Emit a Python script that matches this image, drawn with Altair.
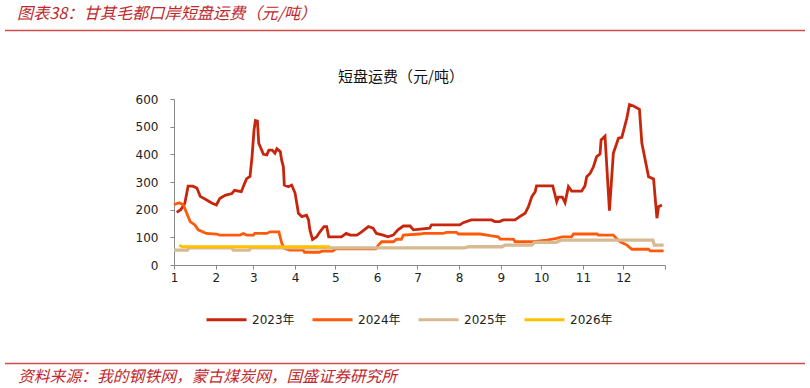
import altair as alt
import pandas as pd

# ---- data (day of year, value in 元/吨) ----
days_2023 = [2, 5, 8, 10.5, 14, 17, 19.5, 24, 28, 31.5, 34, 38, 43, 45, 50, 52.5, 54, 56.5, 58, 59.5,
             60.5, 62, 63, 66.5, 69, 70.5, 73, 75, 76.5, 79, 80, 81.3, 82, 85, 87.5, 90, 92.5, 95, 98.5,
             100, 101, 103, 106, 108.5, 111.5, 113.5, 115, 124.5, 128, 131, 136, 139.5, 144.5, 148,
             150.5, 155.5, 159, 163, 166.5, 170.5, 175.5, 178, 190, 191.5, 212.5, 215, 221, 236, 238.5,
             242, 245, 253.5, 257, 261, 263.5, 266, 268.5, 269.5, 281.5, 283.3, 284.5, 285.7, 288.7,
             290.7, 293.2, 295.6, 303, 305.5, 306.8, 309.3, 311.8, 314.2, 316.7, 317.5, 320.4, 323.7,
             326.6, 330.4, 332.9, 336.6, 338.6, 341.6, 346, 347.8, 352.8, 356.5, 359, 360.2, 362.7]
vals_2023 = [190, 200, 222, 285, 285, 278, 248, 236, 224, 217, 240, 252, 258, 270, 265, 295, 312, 320, 390, 488,
             522, 520, 440, 400, 398, 415, 415, 404, 420, 410, 380, 355, 289, 283, 289, 260, 187, 175, 180,
             163, 127, 92, 102, 120, 139, 139, 102, 102, 114, 108, 108, 120, 139, 133,
             114, 108, 102, 108, 127, 141, 141, 127, 133, 145, 145, 153, 163, 163, 157,
             157, 163, 163, 175, 187, 211, 247, 265, 286, 286, 253, 229, 245, 245,
             225, 283, 267, 267, 286, 319, 331, 355, 392, 401, 452, 466, 196,
             404, 458, 461, 530, 580, 575, 563, 440, 319, 311, 169, 211, 217]

days_2024 = [0, 4, 7, 9.5, 12, 15.5, 18, 24, 31.5, 34, 49, 51.5, 54, 59, 60, 69, 71.5, 78, 80, 82, 86, 96,
             97, 108, 110, 118, 120, 150, 152, 154.3, 163, 165.4, 169, 170.5, 183, 185.5, 200, 202.5, 210,
             211.5, 227.5, 235, 241, 242.5, 252.5, 253.5, 267, 277, 284.5, 288.5, 295.5, 297, 314.5, 315.5,
             326.5, 329, 331.7, 336.7, 340.4, 352.8, 354, 364]
vals_2024 = [218, 225, 217, 187, 157, 145, 127, 114, 112, 108, 108, 114, 108, 108, 114, 114, 120, 120, 80, 60, 54, 54,
             46, 46, 50, 50, 58, 58, 72, 84, 84, 93, 93, 108, 112, 114, 114, 118, 118,
             112, 112, 106, 102, 94, 93, 84, 84, 90, 96, 102, 102, 112, 112, 108,
             108, 96, 84, 72, 57, 57, 51, 51]

days_2025 = [0, 10, 11, 43, 44, 56, 57, 216, 219, 244, 246, 266, 268, 284, 288, 356, 357, 364]
vals_2025 = [54, 54, 62, 62, 54, 54, 62, 62, 66, 66, 72, 72, 82, 82, 90, 90, 72, 72]

days_2026 = [4, 6, 116]
vals_2026 = [72, 66, 66]

years = ["2023年", "2024年", "2025年", "2026年"]
colors = ["#C8260C", "#FF5A0A", "#D8BA92", "#FFC000"]

month_starts = [0, 31, 59, 90, 120, 151, 181, 212, 243, 273, 304, 334, 365]
month_labels = ["1", "2", "3", "4", "5", "6", "7", "8", "9", "10", "11", "12", ""]

header_text = "图表38：甘其毛都口岸短盘运费（元/吨）"
footer_text = "资料来源：我的钢铁网，蒙古煤炭网，国盛证券研究所"
chart_title = "短盘运费（元/吨）"

# ---- tables ----
series = [(years[0], days_2023, vals_2023), (years[1], days_2024, vals_2024),
          (years[2], days_2025, vals_2025), (years[3], days_2026, vals_2026)]

FONT = "DejaVu Sans, Noto Sans CJK SC"
W, H = 491, 166
LEFT, TOP = 174, 99

label_expr = "[" + ",".join("'%s'" % s for s in month_labels) + "][indexof([" + \
    ",".join(str(v) for v in month_starts) + "], datum.value)]"

color_scale = alt.Scale(domain=years, range=colors)
widths = [2.8, 2.8, 3.3, 2.8]

layers = []
for i, (name, d, v) in enumerate(series):
    df = pd.DataFrame({"day": d, "value": v, "year": name})
    enc = dict(
        x=alt.X("day:Q", scale=alt.Scale(domain=[0, 365], nice=False, zero=False),
                axis=alt.Axis(values=month_starts, labelExpr=label_expr, title=None, grid=False,
                              tickSize=4, labelPadding=3, domainColor="#888888", tickColor="#888888",
                              labelColor="#222222", labelFont=FONT, labelFontSize=12,
                              labelFlush=False, labelOverlap=False)),
        y=alt.Y("value:Q", scale=alt.Scale(domain=[0, 600], nice=False),
                axis=alt.Axis(values=[0, 100, 200, 300, 400, 500, 600], title=None, grid=False,
                              tickSize=4, labelPadding=12, domainColor="#888888", tickColor="#888888",
                              labelColor="#222222", labelFont=FONT, labelFontSize=12)),
        color=alt.Color("year:N", scale=color_scale,
                        legend=alt.Legend(title=None, orient="none", direction="horizontal",
                                          legendX=31, legendY=199, symbolType="stroke",
                                          symbolSize=1600, symbolStrokeWidth=3, labelFont=FONT,
                                          labelFontSize=12, labelColor="#222222", labelOffset=4,
                                          columnPadding=11, padding=0)),
        order=alt.Order("day:Q"),
    )
    layers.append(alt.Chart(df).mark_line(strokeWidth=widths[i], interpolate="linear").encode(**enc))

# decorations
hdr = alt.Chart(pd.DataFrame({"t": [header_text]})).mark_text(
    align="left", baseline="middle", fontSize=16.2, fontStyle="italic",
    font="Noto Sans CJK SC", color="#C0282D").encode(
    text="t:N", x=alt.value(17 - LEFT), y=alt.value(13.5 - TOP))
ftr = alt.Chart(pd.DataFrame({"t": [footer_text]})).mark_text(
    align="left", baseline="middle", fontSize=15.8, fontStyle="italic",
    font="Noto Sans CJK SC", color="#C0282D").encode(
    text="t:N", x=alt.value(18 - LEFT), y=alt.value(376.5 - TOP))
ttl = alt.Chart(pd.DataFrame({"t": [chart_title]})).mark_text(
    align="center", baseline="middle", fontSize=15,
    font="Noto Sans CJK SC", color="#111111").encode(
    text="t:N", x=alt.value(401 - LEFT), y=alt.value(76.5 - TOP))
rule_df = pd.DataFrame({"k": [0]})
rule_top = alt.Chart(rule_df).mark_rule(color="#D24B4B", strokeWidth=1.5).encode(
    x=alt.value(5 - LEFT), x2=alt.value(805 - LEFT), y=alt.value(30.5 - TOP))
rule_bot = alt.Chart(rule_df).mark_rule(color="#D24B4B", strokeWidth=1.5).encode(
    x=alt.value(5 - LEFT), x2=alt.value(805 - LEFT), y=alt.value(363.5 - TOP))

chart = alt.layer(*layers, hdr, ftr, ttl, rule_top, rule_bot).properties(
    width=W, height=H,
    autosize=alt.AutoSizeParams(type="none"),
    padding={"left": LEFT, "top": TOP, "right": 810 - LEFT - W, "bottom": 388 - TOP - H},
    background="white",
).configure_view(stroke=None)

chart.save("out.html", embed_options={"renderer": "svg", "actions": False})
